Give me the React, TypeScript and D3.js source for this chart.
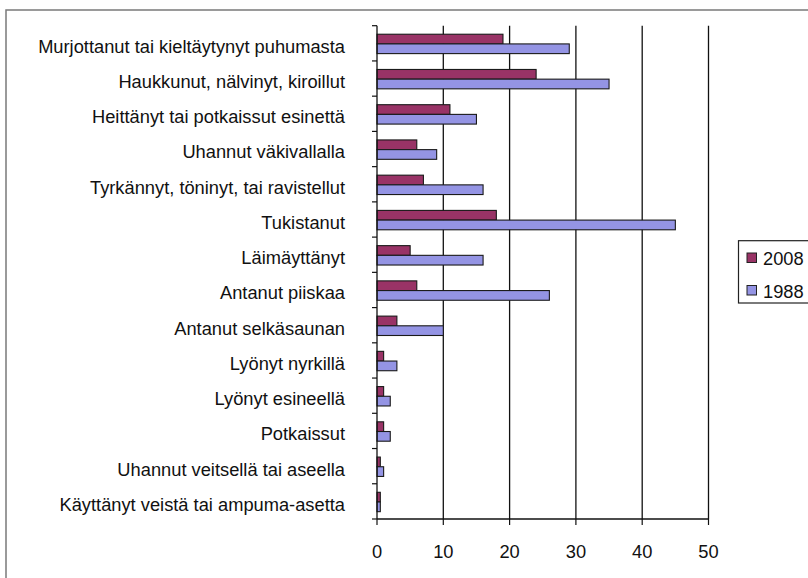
import * as d3 from "d3";

const W = 808;
const H = 578;

const categories = [
  "Murjottanut tai kieltäytynyt puhumasta",
  "Haukkunut, nälvinyt, kiroillut",
  "Heittänyt tai potkaissut esinettä",
  "Uhannut väkivallalla",
  "Tyrkännyt, töninyt, tai ravistellut",
  "Tukistanut",
  "Läimäyttänyt",
  "Antanut piiskaa",
  "Antanut selkäsaunan",
  "Lyönyt nyrkillä",
  "Lyönyt esineellä",
  "Potkaissut",
  "Uhannut veitsellä tai aseella",
  "Käyttänyt veistä tai ampuma-asetta",
];

const values2008 = [19, 24, 11, 6, 7, 18, 5, 6, 3, 1, 1, 1, 0.5, 0.5];
const values1988 = [29, 35, 15, 9, 16, 45, 16, 26, 10, 3, 2, 2, 1, 0.5];

const seriesNames = ["2008", "1988"];
const seriesColors = ["#993366", "#9494e4"];
const xTicks = [0, 10, 20, 30, 40, 50];

const FONT = "'Liberation Sans', Arial, sans-serif";

export default function App() {
  const x = d3.scaleLinear().domain([0, 50]).range([377, 708.5]);
  const y = d3
    .scaleBand<string>()
    .domain(categories)
    .range([25.7, 519])
    .paddingInner(0.45)
    .paddingOuter(0.225);
  const inner = d3
    .scaleBand<string>()
    .domain(seriesNames)
    .range([0.6, y.bandwidth() + 0.6]);

  const step = y.step();
  const top = y.range()[0];
  const bottom = y.range()[1];
  // category ticks sit on band boundaries, Excel style
  const boundaries = d3.range(categories.length + 1).map((i) => top + i * step);
  const series = [values2008, values1988];

  return (
    <svg
      width={W}
      height={H}
      style={{ position: "fixed", left: 0, top: 0, background: "#fff" }}
      fontFamily={FONT}
    >
      <rect x={6} y={10} width={820} height={600} fill="#fff" stroke="#7a7a7a" strokeWidth={1.5} />

      {xTicks.slice(1).map((t) => (
        <line key={t} x1={x(t)} x2={x(t)} y1={top} y2={bottom} stroke="#111" strokeWidth={1.3} />
      ))}

      {categories.map((c, i) =>
        series.map((vals, s) => (
          <rect
            key={c + s}
            x={x(0)}
            y={(y(c) as number) + (inner(seriesNames[s]) as number)}
            width={x(vals[i]) - x(0)}
            height={inner.bandwidth()}
            fill={seriesColors[s]}
            stroke="#1a1a1a"
            strokeWidth={1.1}
          />
        ))
      )}

      <line x1={x(0)} x2={x(0)} y1={top} y2={bottom} stroke="#111" strokeWidth={1.3} />
      <line x1={x(0)} x2={x(50)} y1={bottom} y2={bottom} stroke="#111" strokeWidth={1.3} />
      {boundaries.map((b, i) => (
        <line key={i} x1={x(0) - 5} x2={x(0)} y1={b} y2={b} stroke="#111" strokeWidth={1.2} />
      ))}
      {xTicks.map((t) => (
        <g key={t}>
          <line x1={x(t)} x2={x(t)} y1={bottom} y2={bottom + 6} stroke="#111" strokeWidth={1.2} />
          <text x={x(t)} y={552} dy="0.35em" textAnchor="middle" fontSize={18.3} fill="#111">
            {t}
          </text>
        </g>
      ))}

      {categories.map((c) => (
        <text
          key={c}
          x={345}
          y={(y(c) as number) + y.bandwidth() / 2 + 3}
          dy="0.35em"
          textAnchor="end"
          fontSize={18.3}
          fill="#111"
        >
          {c}
        </text>
      ))}

      <rect x={738.5} y={240.7} width={80} height={62.3} fill="#fff" stroke="#222" strokeWidth={1.2} />
      {seriesNames.map((n, s) => (
        <g key={n} transform={`translate(747, ${258 + s * 32.5})`}>
          <rect x={0} y={-5} width={9.5} height={9.5} fill={seriesColors[s]} stroke="#222" strokeWidth={1} />
          <text x={16} y={1} dy="0.35em" fontSize={18.3} fill="#111">
            {n}
          </text>
        </g>
      ))}
    </svg>
  );
}
